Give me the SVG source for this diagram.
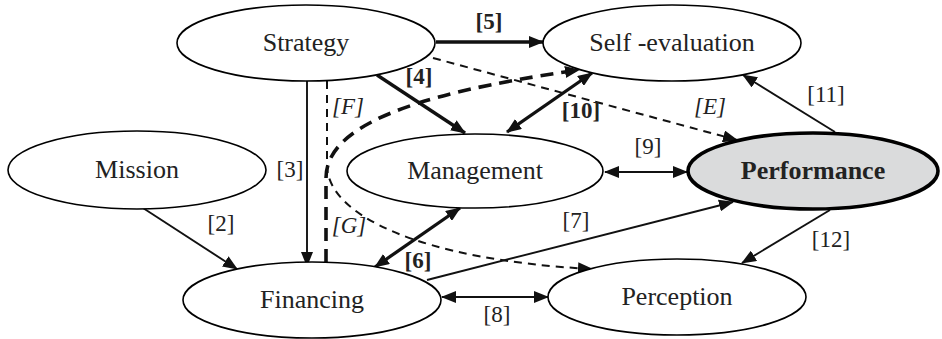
<svg xmlns="http://www.w3.org/2000/svg" width="942" height="339" viewBox="0 0 942 339">
<style>
.node ellipse{fill:#fff;stroke:#000;stroke-width:1.6}
.node text{font-family:"Liberation Serif","Times New Roman",serif;font-size:26px;text-anchor:middle;fill:#222}
#performance ellipse{fill:#dadbdc;stroke-width:3.6}
#performance text{font-weight:bold}
.thin{fill:none;stroke:#111;stroke-width:1.9}
.thick{fill:none;stroke:#111;stroke-width:3.3}
.dthin{fill:none;stroke:#111;stroke-width:2;stroke-dasharray:8 6}
.dthick{fill:none;stroke:#111;stroke-width:3.6;stroke-dasharray:13 8}
.lbl{font-family:"Liberation Serif","Times New Roman",serif;font-size:23px;text-anchor:middle;fill:#222}
.b{font-weight:bold}
.i{font-style:italic}
</style>
<defs>
<marker id="ah" markerUnits="userSpaceOnUse" markerWidth="15" markerHeight="12" refX="14" refY="6" orient="auto-start-reverse" viewBox="0 0 15 12">
<path d="M0,0 L15,6 L0,12 z" fill="#111"/>
</marker>
</defs>
<g id="connectors">
<path class="thin" d="M143,208 L237,269" marker-end="url(#ah)"/>
<path class="thin" d="M307,81 L307,266" marker-end="url(#ah)"/>
<path class="thick" d="M377,75 L465,133" marker-end="url(#ah)"/>
<path class="thick" d="M436,42 L543,42" marker-end="url(#ah)"/>
<path class="thick" d="M375,267 L460,208" marker-start="url(#ah)" marker-end="url(#ah)"/>
<path class="thin" d="M427,280 L733,202" marker-end="url(#ah)"/>
<path class="thin" d="M442,297 L548,297" marker-start="url(#ah)" marker-end="url(#ah)"/>
<path class="thin" d="M605,172 L687,172" marker-start="url(#ah)" marker-end="url(#ah)"/>
<path class="thick" d="M507,132 L592,73" marker-start="url(#ah)" marker-end="url(#ah)"/>
<path class="thin" d="M835,132 L743,75" marker-end="url(#ah)"/>
<path class="thin" d="M830,210 L742,263" marker-end="url(#ah)"/>
<path class="dthin" d="M433,58 L737,140" marker-end="url(#ah)"/>
<path class="dthin" d="M327,81 L327,165 C327,215 420,260 592,269" marker-end="url(#ah)"/>
<path class="dthick" d="M326,262 L326,178 C326,130 400,95 579,70" marker-end="url(#ah)"/>
</g>
<g id="strategy" class="node"><ellipse cx="306" cy="43" rx="129" ry="38"/><text x="306" y="51">Strategy</text></g>
<g id="self-evaluation" class="node"><ellipse cx="672" cy="43" rx="129" ry="38"/><text x="672" y="51">Self -evaluation</text></g>
<g id="mission" class="node"><ellipse cx="137" cy="170" rx="129" ry="39"/><text x="137" y="178">Mission</text></g>
<g id="management" class="node"><ellipse cx="475" cy="171" rx="128" ry="37"/><text x="475" y="179">Management</text></g>
<g id="performance" class="node"><ellipse cx="813" cy="171" rx="125" ry="38"/><text x="813" y="179">Performance</text></g>
<g id="financing" class="node"><ellipse cx="312" cy="300" rx="129" ry="38"/><text x="312" y="308">Financing</text></g>
<g id="perception" class="node"><ellipse cx="677" cy="297" rx="129" ry="38"/><text x="677" y="305">Perception</text></g>
<g id="labels">
<text class="lbl b" x="489" y="29">[5]</text>
<text class="lbl b" x="419" y="84">[4]</text>
<text class="lbl i" x="348" y="114">[F]</text>
<text class="lbl" x="290" y="177">[3]</text>
<text class="lbl" x="221" y="231">[2]</text>
<text class="lbl i" x="349" y="233">[G]</text>
<text class="lbl b" x="418" y="268">[6]</text>
<text class="lbl" x="576" y="228">[7]</text>
<text class="lbl" x="497" y="322">[8]</text>
<text class="lbl" x="648" y="154">[9]</text>
<text class="lbl b" x="581" y="118">[10]</text>
<text class="lbl i" x="710" y="114">[E]</text>
<text class="lbl" x="826" y="102">[11]</text>
<text class="lbl" x="831" y="247">[12]</text>
</g>
</svg>
